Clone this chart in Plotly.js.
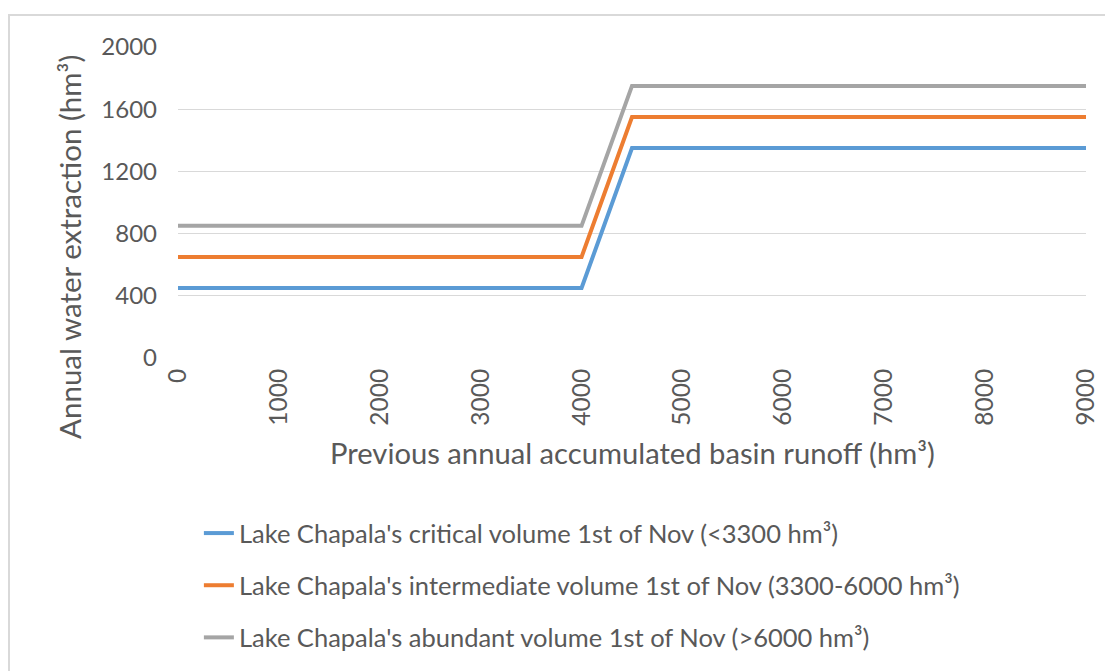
<!DOCTYPE html>
<html>
<head>
<meta charset="utf-8">
<script src="https://cdn.plot.ly/plotly-3.0.1.min.js"></script>
<style>
html,body{margin:0;padding:0;background:#fff;overflow:hidden;}
#frame{position:absolute;left:8px;top:14px;width:1200px;height:800px;border:2px solid #d9d9d9;box-sizing:border-box;}
#chart{position:absolute;left:0;top:0;width:1105px;height:671px;}
</style>
</head>
<body>
<div id="frame"></div>
<div id="chart"></div>
<script>
var runoff = [0, 4000, 4500, 9000];
var critical = [450, 450, 1350, 1350];
var intermediate = [650, 650, 1550, 1550];
var abundant = [850, 850, 1750, 1750];
var names = [
  "Lake Chapala's critical volume 1st of Nov (<3300 hm³)",
  "Lake Chapala's intermediate volume 1st of Nov (3300-6000 hm³)",
  "Lake Chapala's abundant volume 1st of Nov (>6000 hm³)"
];
var colors = ['#5b9bd5', '#ed7d31', '#a5a5a5'];
var series = [critical, intermediate, abundant];
var xTicks = [0,1000,2000,3000,4000,5000,6000,7000,8000,9000];
var yTicks = [0,400,800,1200,1600,2000];
var xTitle = 'Previous annual accumulated basin runoff (hm³)';
var yTitle = 'Annual water extraction (hm³)';

var traces = series.map(function(s, i){
  return {x: runoff, y: s, type:'scatter', mode:'lines', name: names[i],
    legendgroup:'g'+i, line:{color: colors[i], width:4}};
});
var layout = {
  width:1105, height:671,
  paper_bgcolor:'rgba(0,0,0,0)', plot_bgcolor:'rgba(0,0,0,0)',
  font:{family:'Lato, "Open Sans", sans-serif', color:'#595959'},
  margin:{l:178, r:19, t:47, b:313, autoexpand:false},
  showlegend:true,
  legend:{orientation:'v', x:0.023, xanchor:'left', yref:'container', y:(671-510)/671, yanchor:'top',
    font:{size:25.5, color:'#595959'}, tracegroupgap:16, bgcolor:'rgba(0,0,0,0)'},
  xaxis:{range:[0,9000], tickvals:xTicks, ticktext:xTicks.map(String), tickangle:-90,
    showgrid:false, zeroline:false, showline:false, ticks:'', ticklabelstandoff:5,
    tickfont:{size:24.5, color:'#595959'}},
  yaxis:{range:[0,2000], tickvals:yTicks, ticktext:yTicks.map(String),
    showgrid:true, gridcolor:'#d9d9d9', gridwidth:1, zeroline:false, showline:false, ticks:'',
    ticklabelstandoff:20,
    tickfont:{size:24, color:'#595959'}},
  annotations:[
    {text:xTitle, xref:'paper', yref:'paper', x:0.5, y:-0.305, xanchor:'center', yanchor:'middle',
     showarrow:false, font:{size:29.2, color:'#595959'}},
    {text:yTitle, xref:'paper', yref:'paper', x:-0.119, y:0.357, xanchor:'center', yanchor:'middle',
     textangle:-90, showarrow:false, font:{size:29.5, color:'#595959'}}
  ]
};
Plotly.newPlot('chart', traces, layout, {displayModeBar:false, staticPlot:true});
</script>
</body>
</html>
